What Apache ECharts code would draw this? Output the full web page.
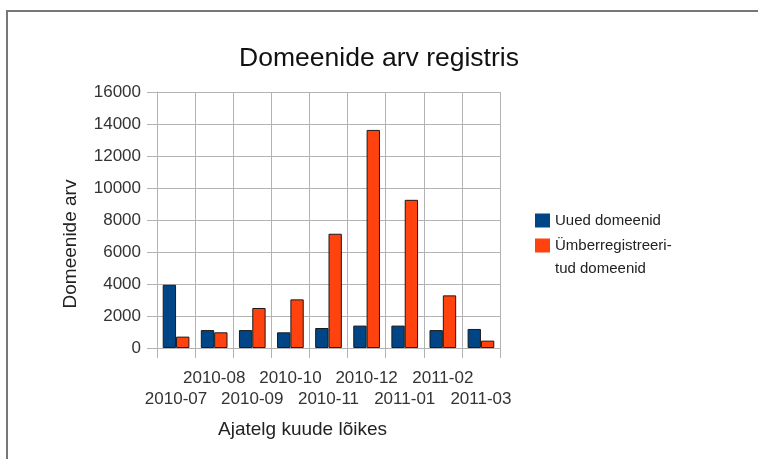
<!DOCTYPE html>
<html>
<head>
<meta charset="utf-8">
<script src="https://cdn.jsdelivr.net/npm/echarts@6/dist/echarts.min.js"></script>
<style>
  html, body { margin: 0; padding: 0; background: #fff; }
  #chart { width: 758px; height: 459px; }
</style>
</head>
<body>
<div id="chart"></div>
<script>
// months on the x axis
var months = ['2010-07', '2010-08', '2010-09', '2010-10', '2010-11',
              '2010-12', '2011-01', '2011-02', '2011-03'];

// new domains
var uuedDomeenid = [3950, 1120, 1120, 980, 1250, 1400, 1400, 1120, 1190];

// re-registered domains
var umberregistreeritud = [710, 980, 2500, 3040, 7140, 13630, 9260, 3290, 460];

var seriesNames = ['Uued domeenid', 'Ümberregistreeritud domeenid'];

var fontFamily = '"Liberation Sans", Arial, sans-serif';
var gridColor = '#b3b3b3';

function createDomainChart() {
    var chart = echarts.init(document.getElementById('chart'));

    var option = {
        backgroundColor: '#fff',
        animation: false,
        title: {
            text: 'Domeenide arv registris',
            left: 'center',
            top: 45,
            padding: 0,
            textStyle: {
                fontFamily: fontFamily,
                fontSize: 26.5,
                fontWeight: 'normal',
                color: '#111'
            }
        },
        legend: {
            orient: 'vertical',
            left: 530,
            top: 204,
            itemWidth: 15,
            itemHeight: 14,
            itemGap: -21,
            icon: 'rect',
            itemStyle: { borderWidth: 0 },
            textStyle: {
                fontFamily: fontFamily,
                fontSize: 15,
                lineHeight: 23,
                color: '#222'
            },
            data: seriesNames,
            formatter: function (name) {
                // empty first line keeps the icon level with the first text line
                return name === seriesNames[1] ? '\nÜmberregistreeri-\ntud domeenid' : name;
            }
        },
        grid: {
            left: 157,
            right: 258,
            top: 92,
            bottom: 111,
            containLabel: false
        },
        xAxis: {
            type: 'category',
            data: months,
            name: 'Ajatelg kuude lõikes',
            nameLocation: 'middle',
            nameGap: 72,
            nameTextStyle: {
                fontFamily: fontFamily,
                fontSize: 19,
                color: '#222',
                padding: [0, 52, 0, 0]
            },
            axisLine: { lineStyle: { color: gridColor } },
            axisTick: { show: true, length: 10, lineStyle: { color: gridColor } },
            splitLine: { show: true, lineStyle: { color: gridColor } },
            axisLabel: {
                interval: 0,
                margin: 20,
                fontFamily: fontFamily,
                fontSize: 17,
                lineHeight: 21,
                color: '#333',
                formatter: function (value, index) {
                    return index % 2 === 0 ? '\n' + value : value;
                }
            }
        },
        yAxis: {
            type: 'value',
            min: 0,
            max: 16000,
            interval: 2000,
            name: 'Domeenide arv',
            nameLocation: 'middle',
            nameGap: 77,
            nameTextStyle: {
                fontFamily: fontFamily,
                fontSize: 19,
                color: '#222',
                padding: [0, 48, 0, 0]
            },
            axisLine: { show: true, lineStyle: { color: gridColor } },
            axisTick: { show: true, length: 10, lineStyle: { color: gridColor } },
            splitLine: { show: true, lineStyle: { color: gridColor } },
            axisLabel: {
                margin: 16,
                fontFamily: fontFamily,
                fontSize: 17,
                color: '#333',
                formatter: function (v) { return String(v); }
            }
        },
        series: [
            {
                name: seriesNames[0],
                type: 'bar',
                data: uuedDomeenid,
                barGap: '0%',
                barCategoryGap: '30%',
                itemStyle: { color: '#004586', borderColor: '#1a1a1a', borderWidth: 1 }
            },
            {
                name: seriesNames[1],
                type: 'bar',
                data: umberregistreeritud,
                barGap: '0%',
                barCategoryGap: '30%',
                itemStyle: { color: '#ff420e', borderColor: '#1a1a1a', borderWidth: 1 }
            }
        ],
        graphic: [
            {
                type: 'polyline',
                silent: true,
                shape: { points: [[7, 470], [7, 11], [770, 11]] },
                style: { fill: null, stroke: '#777', lineWidth: 2 }
            }
        ]
    };

    chart.setOption(option);
}

createDomainChart();
</script>
</body>
</html>
